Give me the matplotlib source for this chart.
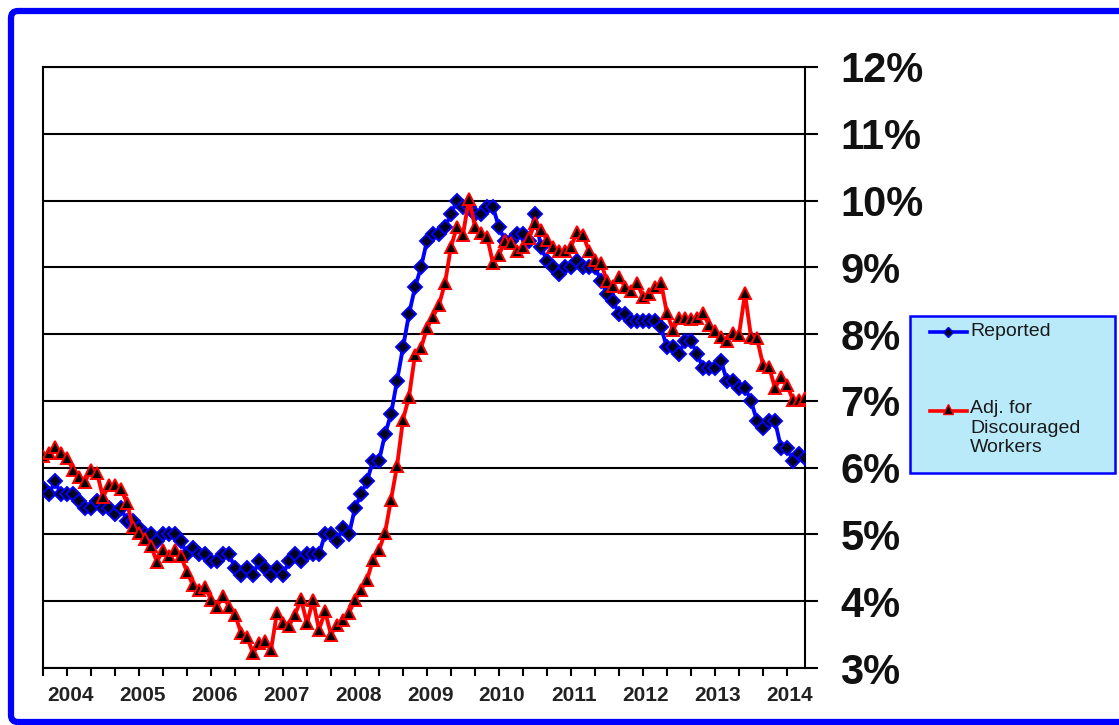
import matplotlib
matplotlib.use('Agg')
import matplotlib.pyplot as plt
from matplotlib.patches import FancyBboxPatch, Rectangle
from matplotlib.lines import Line2D
from matplotlib.transforms import IdentityTransform

plt.rcParams['font.family'] = ['Liberation Sans', 'DejaVu Sans']

# monthly data, Jan 2004 .. Aug 2014
years = list(range(2004, 2015))

reported = [
    5.7, 5.6, 5.8, 5.6, 5.6, 5.6, 5.5, 5.4, 5.4, 5.5, 5.4, 5.4,   # 2004
    5.3, 5.4, 5.2, 5.2, 5.1, 5.0, 5.0, 4.9, 5.0, 5.0, 5.0, 4.9,   # 2005
    4.7, 4.8, 4.7, 4.7, 4.6, 4.6, 4.7, 4.7, 4.5, 4.4, 4.5, 4.4,   # 2006
    4.6, 4.5, 4.4, 4.5, 4.4, 4.6, 4.7, 4.6, 4.7, 4.7, 4.7, 5.0,   # 2007
    5.0, 4.9, 5.1, 5.0, 5.4, 5.6, 5.8, 6.1, 6.1, 6.5, 6.8, 7.3,   # 2008
    7.8, 8.3, 8.7, 9.0, 9.4, 9.5, 9.5, 9.6, 9.8, 10.0, 9.9, 9.9,  # 2009
    9.8, 9.8, 9.9, 9.9, 9.6, 9.4, 9.4, 9.5, 9.5, 9.4, 9.8, 9.3,   # 2010
    9.1, 9.0, 8.9, 9.0, 9.0, 9.1, 9.0, 9.0, 9.0, 8.8, 8.6, 8.5,   # 2011
    8.3, 8.3, 8.2, 8.2, 8.2, 8.2, 8.2, 8.1, 7.8, 7.8, 7.7, 7.9,   # 2012
    7.9, 7.7, 7.5, 7.5, 7.5, 7.6, 7.3, 7.3, 7.2, 7.2, 7.0, 6.7,   # 2013
    6.6, 6.7, 6.7, 6.3, 6.3, 6.1, 6.2, 6.15,                      # 2014
]

adjusted = [
    6.18, 6.22, 6.31, 6.22, 6.15, 5.97, 5.86, 5.79, 5.97, 5.92, 5.56, 5.74,
    5.74, 5.68, 5.47, 5.11, 5.02, 4.93, 4.82, 4.59, 4.77, 4.67, 4.77, 4.67,
    4.44, 4.24, 4.17, 4.22, 4.02, 3.92, 4.08, 3.92, 3.80, 3.53, 3.47, 3.22,
    3.37, 3.40, 3.27, 3.83, 3.68, 3.63, 3.80, 4.03, 3.67, 4.02, 3.57, 3.85,
    3.50, 3.65, 3.72, 3.83, 4.02, 4.17, 4.32, 4.62, 4.77, 5.02, 5.52, 6.02,
    6.72, 7.06, 7.69, 7.79, 8.09, 8.26, 8.44, 8.76, 9.31, 9.61, 9.49, 10.03,
    9.61, 9.51, 9.46, 9.06, 9.19, 9.39, 9.36, 9.24, 9.31, 9.44, 9.66, 9.56,
    9.41, 9.31, 9.24, 9.24, 9.31, 9.53, 9.49, 9.24, 9.11, 9.06, 8.80, 8.72,
    8.86, 8.71, 8.64, 8.76, 8.56, 8.60, 8.71, 8.77, 8.31, 8.06, 8.24, 8.24,
    8.22, 8.24, 8.31, 8.14, 8.04, 7.96, 7.89, 8.01, 7.99, 8.61, 7.96, 7.94,
    7.54, 7.51, 7.19, 7.36, 7.24, 7.01, 7.01, 7.04,
]

labels = ['Reported', 'Adj. for\nDiscouraged\nWorkers']

W, H = 1119, 725
fig = plt.figure(figsize=(W / 100, H / 100), dpi=100)


def fx(px):
    return px / W


def fy(py):
    return 1 - py / H


# blue frame round the whole picture
fig.add_artist(FancyBboxPatch((11, H - 722), 1140 - 11, 722 - 11,
                              boxstyle='round,pad=0,rounding_size=7',
                              transform=IdentityTransform(), fill=False,
                              ec='#0000FF', lw=4.5))

ax = fig.add_axes([fx(43), fy(668), fx(805) - fx(43), fy(67) - fy(668)])
months = list(range(len(reported)))

ax.plot(months, reported, color='#0000FF', lw=2.8, marker='D', ms=7,
        mfc='#000020', mec='#0000FF', mew=1.4, zorder=3)
ax.plot(months, adjusted, color='#FF0000', lw=2.8, marker='^', ms=9,
        mfc='black', mec='#FF0000', mew=1.4, zorder=4)

ax.set_xlim(0, len(reported) - 1)
ax.set_ylim(3, 12)

# y axis on the right
ax.yaxis.tick_right()
ax.set_yticks(range(3, 13))
ax.set_yticklabels([f'{v}%' for v in range(3, 13)], fontsize=30,
                   fontweight='bold', color='#111111')
ax.tick_params(axis='y', direction='out', length=9.5, width=1.5, pad=16)
ax.grid(axis='y', color='black', lw=1.5)
ax.set_axisbelow(True)

# x ticks every 4 months, year labels in between
ax.set_xticks(range(0, len(reported), 4))
ax.set_xticklabels([])
ax.tick_params(axis='x', which='major', direction='out', length=6, width=1.5)
ax.set_xticks([12 * i + 4.5 for i in range(len(years))], minor=True)
ax.set_xticklabels([str(y) for y in years], minor=True, fontsize=15,
                   fontweight='bold', color='#222222')
ax.tick_params(axis='x', which='minor', length=0, pad=13)

for s in ax.spines.values():
    s.set_color('black')
    s.set_linewidth(1.5)

# legend box
fig.add_artist(Rectangle((fx(910), fy(473)), fx(1115) - fx(910),
                         fy(316) - fy(473), transform=fig.transFigure,
                         facecolor='#B8EAFA', edgecolor='#0000FF', lw=1.8))
fig.add_artist(Line2D([fx(930), fx(967)], [fy(332), fy(332)],
                      transform=fig.transFigure, color='#0000FF', lw=2.6))
fig.add_artist(Line2D([fx(948)], [fy(332)], transform=fig.transFigure,
                      marker='D', ms=5.5, mfc='#000020', mec='#0000FF', mew=1))
fig.text(fx(970), fy(331), labels[0], fontsize=14, va='center',
         color='#1a1a1a')
fig.add_artist(Line2D([fx(930), fx(967)], [fy(411), fy(411)],
                      transform=fig.transFigure, color='#FF0000', lw=2.6))
fig.add_artist(Line2D([fx(948)], [fy(409)], transform=fig.transFigure,
                      marker='^', ms=7.5, mfc='black', mec='#FF0000', mew=1))
fig.text(fx(970), fy(400), labels[1], fontsize=14, va='top',
         linespacing=1.2, color='#1a1a1a')

fig.savefig('out.png', dpi=100)
